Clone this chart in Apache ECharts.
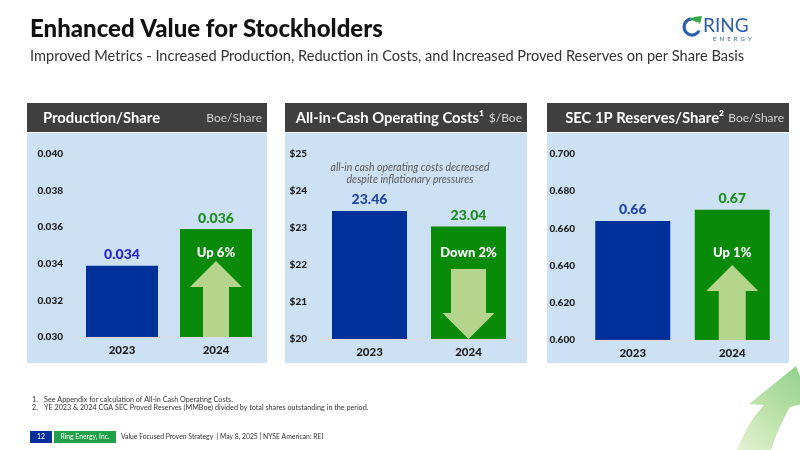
<!DOCTYPE html>
<html>
<head>
<meta charset="utf-8">
<script src="https://cdn.jsdelivr.net/npm/echarts@6/dist/echarts.min.js"></script>
<style>
html,body{margin:0;padding:0;background:#fff;}
#chart{width:800px;height:450px;}
</style>
</head>
<body>
<div id="chart"></div>
<script>
// ---------- DATA ----------
const years = ['2023', '2024'];

const productionPerShare = [0.0339, 0.0359];
const productionLabels = ['0.034', '0.036'];
const productionAxis = [0.030, 0.040, 0.002]; // min, max, interval

const cashCosts = [23.46, 23.04];
const cashCostLabels = ['23.46', '23.04'];
const cashCostAxis = [20, 25, 1];

const reservesPerShare = [0.664, 0.670];
const reservesLabels = ['0.66', '0.67'];
const reservesAxis = [0.600, 0.700, 0.020];

const panelTitles = ['Production/Share', 'All-in-Cash Operating Costs\u00B9', 'SEC 1P Reserves/Share\u00B2'];
const panelUnits = ['Boe/Share', '$/Boe', 'Boe/Share'];
const changeLabels = ['Up 6%', 'Down 2%', 'Up 1%'];
const changeDirections = ['up', 'down', 'up'];

const mainTitle = 'Enhanced Value for Stockholders';
const subTitle = 'Improved Metrics - Increased Production, Reduction in Costs, and Increased Proved Reserves on per Share Basis';
const annotationLines = ['all-in cash operating costs decreased', 'despite inflationary pressures'];
const footnotes = [
  ['1.', 'See Appendix for calculation of All-in Cash Operating Costs.'],
  ['2.', 'YE 2023 & 2024 CGA SEC Proved Reserves (MMBoe) divided by total shares outstanding in the period.']
];
const footerPage = '12';
const footerCompany = 'Ring Energy, Inc.';
const footerText = 'Value Focused Proven Strategy  | May 8, 2025 | NYSE American: REI';

// ---------- STYLE / LAYOUT ----------
const BLUE = '#00309a', GREEN = '#098a09', ARROW = '#b5d58c';
const FONT = 'Lato, "Noto Sans", sans-serif';

const panels = [
  { values: productionPerShare, labels: productionLabels, axis: productionAxis, fmt: v => v.toFixed(3),
    grid: {left: 75, top: 154, width: 188, height: 183}, box: [27, 267], labelMargin: 12, barWidth: 72,
    blueLabel: '#2222d6', titleX: 43, titleAlign: 'left',
    arrow: {arrowLen: 76, headLen: 26, headHalf: 26, shaftHalf: 13, textOffset: 84} },
  { values: cashCosts, labels: cashCostLabels, axis: cashCostAxis, fmt: v => '$' + Math.round(v),
    grid: {left: 320, top: 154, width: 198, height: 185}, box: [285, 527], labelMargin: 13, barWidth: 75,
    blueLabel: '#1f45a8', titleX: 484, titleAlign: 'right',
    arrow: {arrowLen: 70, headLen: 26, headHalf: 26, shaftHalf: 17.5, textOffset: 86} },
  { values: reservesPerShare, labels: reservesLabels, axis: reservesAxis, fmt: v => v.toFixed(3),
    grid: {left: 583, top: 154, width: 199, height: 186}, box: [547, 789], labelMargin: 8, barWidth: 75,
    blueLabel: '#1f45a8', titleX: 724, titleAlign: 'right',
    arrow: {arrowLen: 75, headLen: 26, headHalf: 26, shaftHalf: 13.5, textOffset: 87} }
];

function arrowRenderer(p, dir, text, axisMin) {
  return function (params, api) {
    const base = api.coord([api.value(0), axisMin]);
    const cx = base[0], by = base[1];
    let pts;
    if (dir === 'up') {
      const tip = by - p.arrowLen, hb = tip + p.headLen;
      pts = [[cx, tip], [cx + p.headHalf, hb], [cx + p.shaftHalf, hb], [cx + p.shaftHalf, by],
             [cx - p.shaftHalf, by], [cx - p.shaftHalf, hb], [cx - p.headHalf, hb]];
    } else {
      const top = by - p.arrowLen, hb = by - p.headLen;
      pts = [[cx - p.shaftHalf, top], [cx + p.shaftHalf, top], [cx + p.shaftHalf, hb], [cx + p.headHalf, hb],
             [cx, by], [cx - p.headHalf, hb], [cx - p.shaftHalf, hb]];
    }
    return { type: 'group', children: [
      { type: 'polygon', shape: { points: pts }, style: { fill: ARROW } },
      { type: 'text', x: cx, y: by - p.textOffset,
        style: { text: text, fill: '#ffffff', font: '900 13px ' + FONT, align: 'center', verticalAlign: 'middle' } }
    ]};
  };
}

const grids = [], xAxes = [], yAxes = [], series = [], graphics = [];

panels.forEach((p, i) => {
  grids.push(Object.assign({ containLabel: false }, p.grid));
  xAxes.push({
    type: 'category', gridIndex: i, data: years,
    axisLine: { show: true, lineStyle: { color: '#dcdcdc', width: 1 } },
    axisTick: { show: false },
    axisLabel: { color: '#1a1a1a', fontFamily: FONT, fontWeight: 900, fontSize: 11.5, margin: 7 }
  });
  yAxes.push({
    type: 'value', gridIndex: i, min: p.axis[0], max: p.axis[1], interval: p.axis[2],
    splitLine: { show: false }, axisLine: { show: false }, axisTick: { show: false },
    axisLabel: { color: '#1a1a1a', fontFamily: FONT, fontWeight: 900, fontSize: 10,
                 margin: p.labelMargin, formatter: p.fmt }
  });
  series.push({
    type: 'bar', xAxisIndex: i, yAxisIndex: i, barWidth: p.barWidth,
    data: p.values.map((v, k) => ({
      value: v,
      itemStyle: { color: k === 0 ? BLUE : GREEN },
      label: { color: k === 0 ? p.blueLabel : '#1b8c1b' }
    })),
    label: { show: true, position: 'top', distance: 4, fontFamily: FONT, fontWeight: 900, fontSize: 14,
             formatter: params => p.labels[params.dataIndex] },
    z: 2
  });
  series.push({
    type: 'custom', xAxisIndex: i, yAxisIndex: i, z: 5,
    renderItem: arrowRenderer(p.arrow, changeDirections[i], changeLabels[i], p.axis[0]),
    data: [[1, p.values[1]]], silent: true
  });

  graphics.push({ type: 'rect', z: -10, shape: { x: p.box[0], y: 133, width: p.box[1] - p.box[0], height: 230 },
                  style: { fill: '#cde1f4' } });
  graphics.push({ type: 'rect', z: -10, shape: { x: p.box[0], y: 103, width: p.box[1] - p.box[0], height: 29 },
                  style: { fill: '#3f3f3f' } });
  graphics.push({ type: 'text', z: 10, x: p.titleX, y: 118,
                  style: { text: panelTitles[i], fill: '#ffffff', font: 'bold 14.8px ' + FONT,
                           align: p.titleAlign, verticalAlign: 'middle' } });
  graphics.push({ type: 'text', z: 10, x: p.box[1] - 5, y: 118,
                  style: { text: panelUnits[i], fill: '#d4d4d4', font: '12px ' + FONT,
                           align: 'right', verticalAlign: 'middle' } });
});

annotationLines.forEach((t, k) => {
  graphics.push({ type: 'text', z: 10, x: 410, y: 168 + k * 12,
                  style: { text: t, fill: '#595959', font: 'italic 10.5px ' + FONT, align: 'center', verticalAlign: 'middle' } });
});

graphics.push({ type: 'text', z: 10, x: 30, y: 29,
                style: { text: mainTitle, fill: '#111111', font: '900 24px ' + FONT, verticalAlign: 'middle' } });
graphics.push({ type: 'text', z: 10, x: 30, y: 56,
                style: { text: subTitle, fill: '#333333', font: '14.6px ' + FONT, verticalAlign: 'middle' } });

// logo
graphics.push({ type: 'arc', z: 10, shape: { cx: 692, cy: 27, r: 8, startAngle: Math.PI * 0.15, endAngle: Math.PI * 1.45, clockwise: true },
                style: { stroke: '#2b5fae', lineWidth: 3.2, fill: null } });
graphics.push({ type: 'arc', z: 10, shape: { cx: 692, cy: 27, r: 8, startAngle: Math.PI * 1.45, endAngle: Math.PI * 1.75, clockwise: true },
                style: { stroke: '#3aa84a', lineWidth: 3.2, fill: null } });
graphics.push({ type: 'polygon', z: 10, shape: { points: [[702, 16], [693, 17], [700, 24]] }, style: { fill: '#3aa84a' } });
graphics.push({ type: 'text', z: 10, x: 703, y: 26,
                style: { text: 'RING', fill: '#2b5fae', font: '19px ' + FONT, verticalAlign: 'middle' } });
graphics.push({ type: 'text', z: 10, x: 713, y: 39,
                style: { text: 'E  N  E  R  G  Y', fill: '#2b5fae', font: '6px ' + FONT, verticalAlign: 'middle' } });

footnotes.forEach((f, k) => {
  graphics.push({ type: 'text', z: 10, x: 32, y: 400 + k * 8,
                  style: { text: f[0], fill: '#333', font: '7.2px ' + FONT, verticalAlign: 'middle' } });
  graphics.push({ type: 'text', z: 10, x: 44, y: 400 + k * 8,
                  style: { text: f[1], fill: '#333', font: '7.2px ' + FONT, verticalAlign: 'middle' } });
});

graphics.push({ type: 'rect', z: 10, shape: { x: 30, y: 431, width: 22, height: 12 }, style: { fill: BLUE } });
graphics.push({ type: 'text', z: 11, x: 41, y: 437, style: { text: footerPage, fill: '#fff', font: '6.8px ' + FONT, align: 'center', verticalAlign: 'middle' } });
graphics.push({ type: 'rect', z: 10, shape: { x: 54, y: 431, width: 62, height: 12 }, style: { fill: '#22a04a' } });
graphics.push({ type: 'text', z: 11, x: 85, y: 437, style: { text: footerCompany, fill: '#fff', font: '6.8px ' + FONT, align: 'center', verticalAlign: 'middle' } });
graphics.push({ type: 'text', z: 11, x: 121, y: 437, style: { text: footerText, fill: '#333', font: '6.8px ' + FONT, verticalAlign: 'middle' } });

// decorative curved arrow bottom-right (sampled quadratic curves)
function quad(p0, c, p1, n) {
  const out = [];
  for (let k = 0; k <= n; k++) {
    const t = k / n;
    out.push([(1-t)*(1-t)*p0[0] + 2*(1-t)*t*c[0] + t*t*p1[0], (1-t)*(1-t)*p0[1] + 2*(1-t)*t*c[1] + t*t*p1[1]]);
  }
  return out;
}
const decoPts = [].concat(
  quad([737, 450], [748, 422], [764, 405], 12),
  [[749, 404], [796, 366], [810, 402]],
  quad([790, 407], [779, 426], [771, 450], 12)
);
graphics.push({ type: 'polygon', z: 10, shape: { points: decoPts },
  style: { fill: new echarts.graphic.LinearGradient(0, 1, 1, 0, [
    { offset: 0, color: '#e3f2d3' }, { offset: 0.5, color: '#b9e0a6' }, { offset: 1, color: '#8fcf8a' }]) } });

const chart = echarts.init(document.getElementById('chart'), null, { renderer: 'canvas' });
chart.setOption({
  animation: false,
  backgroundColor: '#ffffff',
  grid: grids, xAxis: xAxes, yAxis: yAxes, series: series,
  graphic: { elements: graphics }
});
</script>
</body>
</html>
